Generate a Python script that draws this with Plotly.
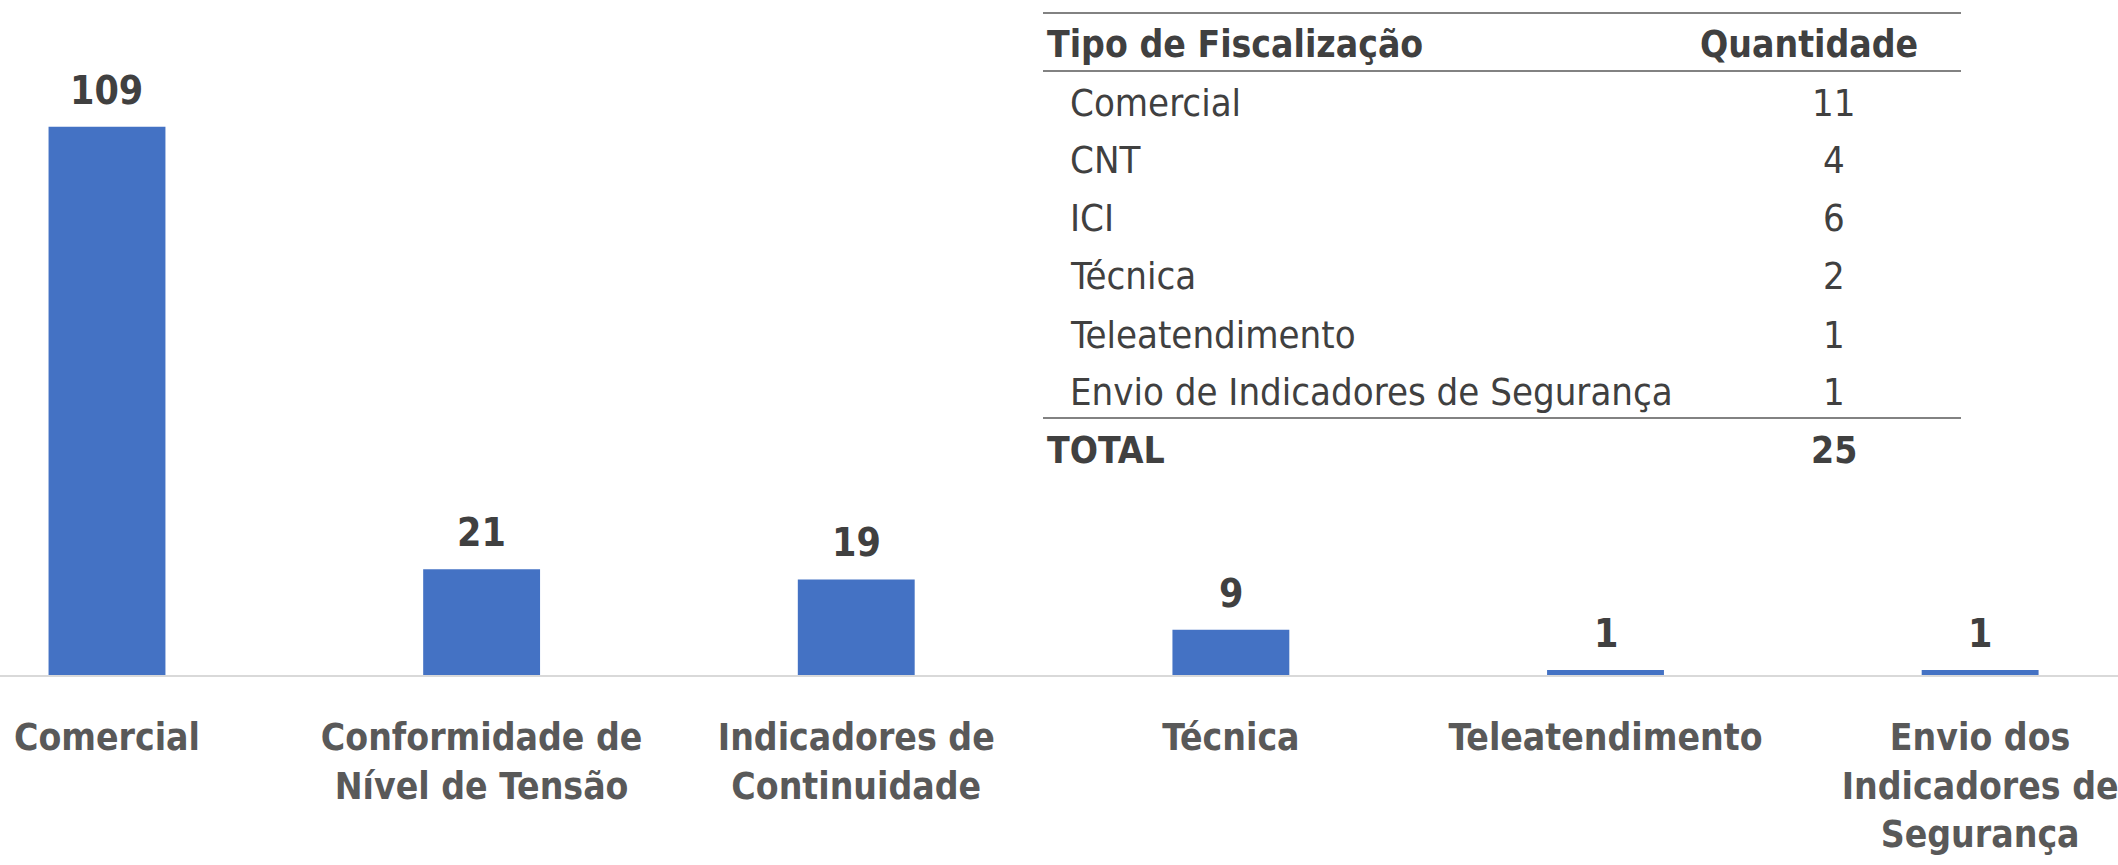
import plotly.graph_objects as go

categories = ["Comercial", "Conformidade de<br>Nível de Tensão", "Indicadores de<br>Continuidade",
              "Técnica", "Teleatendimento", "Envio dos<br>Indicadores de<br>Segurança"]
values = [109, 21, 19, 9, 1, 1]

table_header = ["Tipo de Fiscalização", "Quantidade"]
table_types = ["Comercial", "CNT", "ICI", "Técnica", "Teleatendimento", "Envio de Indicadores de Segurança"]
table_counts = [11, 4, 6, 2, 1, 1]
table_total_label = "TOTAL"
table_total = 25

FONT = "Liberation Sans Narrow, Arial Narrow, DejaVu Sans Condensed, Roboto Condensed, sans-serif"
W, H = 2118, 865
PLOT_TOP, PLOT_BOTTOM = 0, 675
PH = PLOT_BOTTOM - PLOT_TOP

def py(y):
    return (PLOT_BOTTOM - y) / PH

def px(x):
    return x / W

fig = go.Figure()
fig.add_trace(go.Bar(
    x=list(range(len(categories))), y=values,
    marker=dict(color="#4472C4", line=dict(width=0)),
    width=0.312, hoverinfo="skip",
))

ann = []
for i, v in enumerate(values):
    ann.append(dict(x=i, y=v, xref="x", yref="y", text=f"<b>{v}</b>", showarrow=False,
                    yanchor="bottom", xanchor="center", yshift=12,
                    font=dict(family=FONT, size=39, color="#404040")))

TF = 38
TB = 37
ann.append(dict(x=px(1045), y=py(45), xref="paper", yref="paper", text=f"<b>{table_header[0]}</b>",
                showarrow=False, xanchor="left", yanchor="middle",
                font=dict(family=FONT, size=TB, color="#404040")))
ann.append(dict(x=px(1920), y=py(45), xref="paper", yref="paper", text=f"<b>{table_header[1]}</b>",
                showarrow=False, xanchor="right", yanchor="middle",
                font=dict(family=FONT, size=TB, color="#404040")))
row_y = [103, 160, 218, 276, 335, 392]
for t, c, yy in zip(table_types, table_counts, row_y):
    ann.append(dict(x=px(1068), y=py(yy), xref="paper", yref="paper", text=t,
                    showarrow=False, xanchor="left", yanchor="middle",
                    font=dict(family=FONT, size=TF, color="#404040")))
    ann.append(dict(x=px(1834), y=py(yy), xref="paper", yref="paper", text=str(c),
                    showarrow=False, xanchor="center", yanchor="middle",
                    font=dict(family=FONT, size=TF, color="#404040")))
ann.append(dict(x=px(1045), y=py(450), xref="paper", yref="paper", text=f"<b>{table_total_label}</b>",
                showarrow=False, xanchor="left", yanchor="middle",
                font=dict(family=FONT, size=TB, color="#404040")))
ann.append(dict(x=px(1834), y=py(450), xref="paper", yref="paper", text=f"<b>{table_total}</b>",
                showarrow=False, xanchor="center", yanchor="middle",
                font=dict(family=FONT, size=TB, color="#404040")))

shapes = []
for ly in [13, 71, 418]:
    shapes.append(dict(type="line", xref="paper", yref="paper", x0=px(1043), x1=px(1961),
                       y0=py(ly), y1=py(ly), line=dict(color="#595959", width=1.5)))

fig.update_layout(
    width=W, height=H,
    margin=dict(l=0, r=0, t=PLOT_TOP, b=H - PLOT_BOTTOM, pad=0),
    paper_bgcolor="white", plot_bgcolor="white",
    showlegend=False,
    annotations=ann, shapes=shapes,
    xaxis=dict(range=[-0.2856, 5.368], tickmode="array", tickvals=list(range(len(categories))),
               ticktext=[f"<b>{c}</b>" for c in categories],
               showline=True, linecolor="#d9d9d9", linewidth=2, showgrid=False, zeroline=False,
               ticks="", tickfont=dict(family=FONT, size=37, color="#595959"),
               ticklabelstandoff=29, ticklabeloverflow="allow"),
    yaxis=dict(range=[0, 134.2], visible=False, showgrid=False, zeroline=False),
)
fig.write_html("out.html", config={"displayModeBar": False},
               post_script="document.body.style.margin='0';document.body.style.overflow='hidden';")
